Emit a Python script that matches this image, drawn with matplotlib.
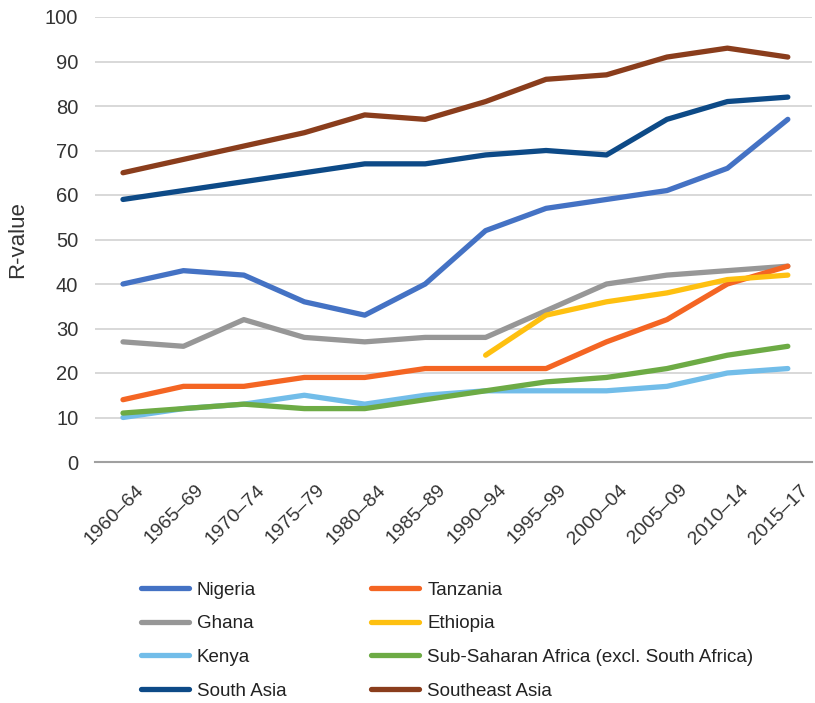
import matplotlib.pyplot as plt
import matplotlib.transforms as mtransforms
import numpy as np

plt.rcParams['font.family'] = ['Liberation Sans', 'DejaVu Sans']

# Okresy (oś X)
okresy = ['1960–64', '1965–69', '1970–74', '1975–79', '1980–84', '1985–89',
          '1990–94', '1995–99', '2000–04', '2005–09', '2010–14', '2015–17']

# Wartości R dla poszczególnych krajów / regionów
nigeria = [40, 43, 42, 36, 33, 40, 52, 57, 59, 61, 66, 77]
tanzania = [14, 17, 17, 19, 19, 21, 21, 21, 27, 32, 40, 44]
ghana = [27, 26, 32, 28, 27, 28, 28, 34, 40, 42, 43, 44]
ethiopia = [None, None, None, None, None, None, 24, 33, 36, 38, 41, 42]
kenya = [10, 12, 13, 15, 13, 15, 16, 16, 16, 17, 20, 21]
ssa = [11, 12, 13, 12, 12, 14, 16, 18, 19, 21, 24, 26]
azja_pd = [59, 61, 63, 65, 67, 67, 69, 70, 69, 77, 81, 82]
azja_pd_wsch = [65, 68, 71, 74, 78, 77, 81, 86, 87, 91, 93, 91]

serie = [
    ('Nigeria', nigeria, '#4472c4'),
    ('Ghana', ghana, '#979797'),
    ('Kenya', kenya, '#72bde9'),
    ('South Asia', azja_pd, '#0d4a87'),
    ('Tanzania', tanzania, '#f46523'),
    ('Ethiopia', ethiopia, '#fec010'),
    ('Sub-Saharan Africa (excl. South Africa)', ssa, '#6dab45'),
    ('Southeast Asia', azja_pd_wsch, '#8a3d1c'),
]

fig = plt.figure(figsize=(8.15, 7.03), dpi=100)
ax = fig.add_axes([95 / 815, 1 - 462 / 703, 717 / 815, 445 / 703])

x = np.arange(len(okresy))
for nazwa, wartosci, kolor in serie:
    y = np.array([np.nan if v is None else v for v in wartosci], dtype=float)
    ax.plot(x, y, color=kolor, linewidth=3.8, solid_capstyle='round',
            solid_joinstyle='round', label=nazwa)

ax.set_xlim(-0.463, 11.4)
ax.set_ylim(0, 100)
ax.set_yticks(range(0, 101, 10))
ax.set_xticks(x)
ax.set_xticklabels(okresy, rotation=45, ha='right', rotation_mode='anchor')
ax.tick_params(axis='y', length=0, labelsize=14.5, colors='#333333', pad=12)
ax.tick_params(axis='x', length=0, labelsize=14, colors='#333333', pad=14)

# przesunięcie etykiet osi X w prawo
przes = mtransforms.ScaledTranslation(12 / 100, 0, fig.dpi_scale_trans)
for lab in ax.get_xticklabels():
    lab.set_transform(lab.get_transform() + przes)

ax.grid(axis='y', color='#d6d6d6', linewidth=1.3)
ax.set_axisbelow(True)
for s in ['top', 'right', 'left']:
    ax.spines[s].set_visible(False)
ax.spines['bottom'].set_color('#a0a0a0')
ax.spines['bottom'].set_linewidth(1.5)

fig.text(18 / 815, 1 - 240 / 703, 'R-value', rotation=90, fontsize=16,
         color='#333333', ha='center', va='center')

fig.legend(loc='upper left', bbox_to_anchor=(133 / 815, 1 - 574 / 703),
           ncol=2, frameon=False, fontsize=13.5, handlelength=2.56,
           handletextpad=0.45, columnspacing=4.5, labelspacing=0.88,
           labelcolor='#222222', borderaxespad=0)

plt.savefig('out.png', dpi=100)
